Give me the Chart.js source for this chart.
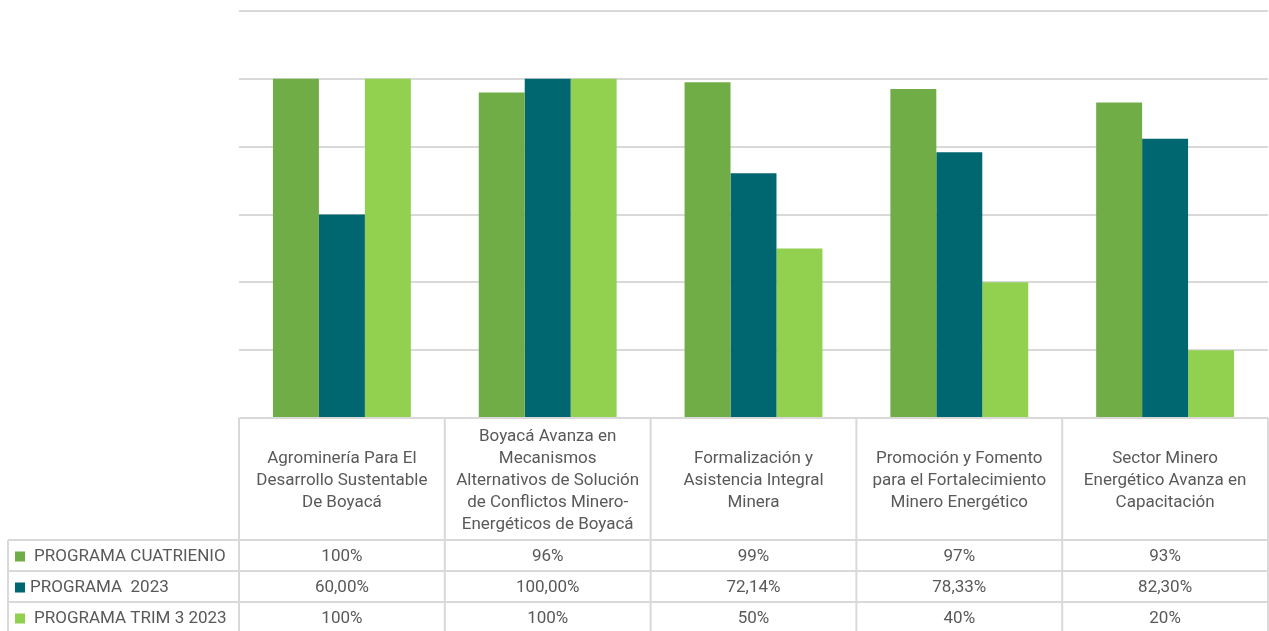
<!DOCTYPE html>
<html>
<head>
<meta charset="utf-8">
<script src="https://cdn.jsdelivr.net/npm/chart.js@4.4.1/dist/chart.umd.min.js"></script>
<style>
  html, body { margin: 0; padding: 0; background: #fff; }
  #wrap { width: 1269px; height: 631px; position: relative; }
</style>
</head>
<body>
<div id="wrap"><canvas id="chart"></canvas></div>
<script>
// categories (wrapped as in the data table header)
const categories = [
    ["Agrominería Para El", "Desarrollo Sustentable", "De Boyacá"],
    ["Boyacá Avanza en", "Mecanismos", "Alternativos de Solución", "de Conflictos Minero-", "Energéticos de Boyacá"],
    ["Formalización y", "Asistencia Integral", "Minera"],
    ["Promoción y Fomento", "para el Fortalecimiento", "Minero Energético"],
    ["Sector Minero", "Energético Avanza en", "Capacitación"]
];

const seriesNames = ["PROGRAMA CUATRIENIO", "PROGRAMA  2023", "PROGRAMA TRIM 3 2023"];
const cuatrienio = [100, 96, 99, 97, 93];
const programa2023 = [60.00, 100.00, 72.14, 78.33, 82.30];
const trim3 = [100, 100, 50, 40, 20];
const tableText = [
    ["100%", "96%", "99%", "97%", "93%"],
    ["60,00%", "100,00%", "72,14%", "78,33%", "82,30%"],
    ["100%", "100%", "50%", "40%", "20%"]
];
const colors = ["#70AD47", "#006670", "#92D050"];

const FONT = "17px Roboto";
const TEXT = "#595959";
const LINE = "#D9D9D9";

// draws the Excel-style data table below the plot area
const dataTablePlugin = {
    id: "dataTable",
    afterDraw(chart) {
        const ctx = chart.ctx;
        const x = chart.scales.x;
        const area = chart.chartArea;
        const n = categories.length;
        const step = (area.right - area.left) / n;
        const top = area.bottom;
        const headH = 122;
        const rowH = 31;
        const leftCol = 8;

        ctx.save();
        ctx.strokeStyle = LINE;
        ctx.lineWidth = 2;

        // horizontal lines
        ctx.beginPath();
        ctx.moveTo(area.left, top);
        ctx.lineTo(area.right, top);
        for (let r = 0; r <= 3; r++) {
            const y = top + headH + r * rowH;
            ctx.moveTo(leftCol, y);
            ctx.lineTo(area.right, y);
        }
        // vertical lines
        for (let c = 0; c <= n; c++) {
            const xx = area.left + c * step;
            ctx.moveTo(xx, top);
            ctx.lineTo(xx, top + headH + 3 * rowH);
        }
        ctx.moveTo(leftCol, top + headH);
        ctx.lineTo(leftCol, top + headH + 3 * rowH);
        ctx.stroke();

        ctx.font = FONT;
        ctx.fillStyle = TEXT;
        ctx.textAlign = "center";
        ctx.textBaseline = "middle";

        // header labels
        const lh = 22;
        categories.forEach((lines, i) => {
            const cx = x.getPixelForValue(i);
            const cy = top + headH / 2 + 2;
            const y0 = cy - (lines.length - 1) * lh / 2;
            lines.forEach((t, j) => ctx.fillText(t, cx, y0 + j * lh));
        });

        // value rows
        tableText.forEach((row, r) => {
            const cy = top + headH + r * rowH + rowH / 2 + 1;
            row.forEach((t, i) => ctx.fillText(t, x.getPixelForValue(i), cy));
            // legend key + series name
            ctx.fillStyle = colors[r];
            ctx.fillRect(15, cy - 5, 10, 10);
            ctx.fillStyle = TEXT;
            ctx.textAlign = "left";
            ctx.fillText(seriesNames[r], r === 1 ? 30 : 34, cy);
            ctx.textAlign = "center";
        });
        ctx.restore();
    }
};

new Chart(document.getElementById("chart"), {
    type: "bar",
    data: {
        labels: categories.map(c => c.join(" ")),
        datasets: [
            { label: seriesNames[0], data: cuatrienio, backgroundColor: colors[0] },
            { label: seriesNames[1], data: programa2023, backgroundColor: colors[1] },
            { label: seriesNames[2], data: trim3, backgroundColor: colors[2] }
        ]
    },
    options: {
        responsive: true,
        maintainAspectRatio: false,
        animation: false,
        layout: { padding: { left: 239, right: 1, top: 11, bottom: 213 } },
        datasets: { bar: { barPercentage: 1, categoryPercentage: 0.67 } },
        plugins: { legend: { display: false }, tooltip: { enabled: false } },
        scales: {
            x: {
                ticks: { display: false },
                grid: { display: false, drawTicks: false },
                border: { display: false },
                afterFit(s) { s.height = 0; }
            },
            y: {
                min: 0,
                max: 120,
                ticks: { display: false, stepSize: 20 },
                grid: { color: LINE, lineWidth: 2, drawTicks: false },
                border: { display: false },
                afterFit(s) { s.width = 0; }
            }
        }
    },
    plugins: [dataTablePlugin]
});
</script>
</body>
</html>
